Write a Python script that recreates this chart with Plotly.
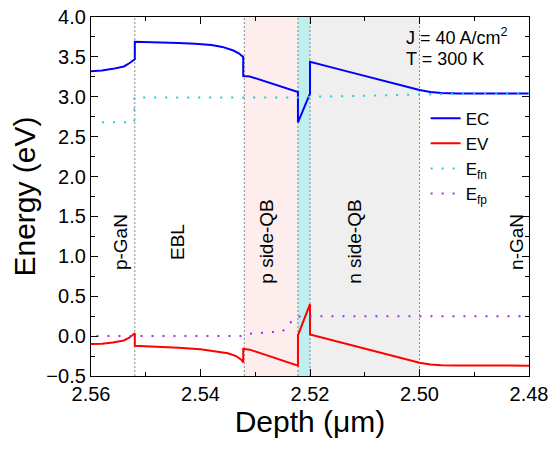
import plotly.graph_objects as go

# ---- data ----
depth_ec = [2.560, 2.558, 2.556, 2.554, 2.553, 2.552, 2.552, 2.548, 2.544, 2.541, 2.538, 2.536,
            2.534, 2.533, 2.5322, 2.5322, 2.531, 2.5222, 2.5222, 2.520, 2.520, 2.515, 2.510,
            2.505, 2.502, 2.500, 2.498, 2.496, 2.493, 2.490, 2.485, 2.480]
ec = [3.32, 3.33, 3.35, 3.38, 3.42, 3.47, 3.69, 3.685, 3.675, 3.665, 3.65, 3.625,
      3.58, 3.545, 3.50, 3.26, 3.255, 3.06, 2.68, 3.04, 3.44, 3.35, 3.26,
      3.17, 3.115, 3.085, 3.06, 3.048, 3.042, 3.04, 3.04, 3.04]

depth_ev = [2.560, 2.558, 2.556, 2.554, 2.553, 2.552, 2.552, 2.548, 2.544, 2.540, 2.537, 2.535,
            2.5335, 2.5325, 2.5322, 2.5322, 2.531, 2.5222, 2.5222, 2.520, 2.520, 2.515, 2.510,
            2.505, 2.502, 2.500, 2.498, 2.496, 2.493, 2.490, 2.485, 2.480]
ev = [-0.10, -0.095, -0.08, -0.055, -0.02, 0.035, -0.12, -0.13, -0.145, -0.165, -0.19, -0.215,
      -0.25, -0.30, -0.33, -0.16, -0.17, -0.37, 0.01, 0.40, 0.02, -0.07, -0.16,
      -0.25, -0.30, -0.335, -0.355, -0.365, -0.368, -0.37, -0.37, -0.37]

depth_efn = [2.558, 2.5521, 2.5521, 2.540, 2.530, 2.522, 2.520, 2.515, 2.510, 2.505, 2.500,
             2.495, 2.490, 2.480]
efn = [2.68, 2.68, 2.99, 2.99, 2.99, 2.99, 3.0, 3.005, 3.01, 3.02, 3.03, 3.035, 3.038, 3.04]

depth_efp = [2.559, 2.540, 2.532, 2.531, 2.527, 2.525, 2.5237, 2.5225, 2.520, 2.500, 2.480]
efp = [0.0, 0.0, 0.0, 0.03, 0.045, 0.06, 0.16, 0.245, 0.25, 0.25, 0.25]

boundaries = [2.552, 2.532, 2.5222, 2.520, 2.500]
shaded_regions = [(2.532, 2.5222), (2.5222, 2.520), (2.520, 2.500)]
shade_colors = ["rgba(253,237,237,1)", "rgba(190,238,238,1)", "rgba(239,239,239,1)"]

region_labels = ["p-GaN", "EBL", "p side-QB", "n side-QB", "n-GaN"]
region_label_x = [2.5545, 2.5441, 2.5279, 2.5118, 2.4822]
region_label_y = 1.18

x_ticks = [2.56, 2.54, 2.52, 2.50, 2.48]

FONT = "Liberation Sans, Arial, sans-serif"

fig = go.Figure()
fig.add_trace(go.Scatter(x=depth_ec, y=ec, mode="lines", name="EC",
                         line=dict(color="#0000FF", width=2)))
fig.add_trace(go.Scatter(x=depth_ev, y=ev, mode="lines", name="EV",
                         line=dict(color="#FF0000", width=2)))
fig.add_trace(go.Scatter(x=depth_efn, y=efn, mode="lines", name="E<sub>fn</sub>",
                         line=dict(color="#22CCDD", width=2, dash="2px,9px")))
fig.add_trace(go.Scatter(x=depth_efp, y=efp, mode="lines", name="E<sub>fp</sub>",
                         line=dict(color="#A030E0", width=2, dash="2px,9px")))

shapes = []
for (x0, x1), c in zip(shaded_regions, shade_colors):
    shapes.append(dict(type="rect", xref="x", yref="paper", x0=x0, x1=x1, y0=0, y1=1,
                       fillcolor=c, line=dict(width=0), layer="below"))
for b in boundaries:
    shapes.append(dict(type="line", xref="x", yref="paper", x0=b, x1=b, y0=0, y1=1,
                       line=dict(color="#888888", width=1, dash="2px,2px"), layer="below"))

annotations = []
for t, xv in zip(region_labels, region_label_x):
    annotations.append(dict(x=xv, y=region_label_y, xref="x", yref="y", text=t,
                            textangle=-90, showarrow=False,
                            font=dict(family=FONT, size=19, color="black")))
annotations.append(dict(x=2.5029, y=3.755, xref="x", yref="y", xanchor="left",
                        text="J = 40 A/cm<sup>2</sup>", showarrow=False,
                        font=dict(family=FONT, size=18, color="black")))
annotations.append(dict(x=2.5029, y=3.47, xref="x", yref="y", xanchor="left",
                        text="T = 300 K", showarrow=False,
                        font=dict(family=FONT, size=18, color="black")))

axis_common = dict(showline=True, linecolor="black", linewidth=1.3, mirror="allticks",
                   ticks="inside", ticklen=7, tickwidth=1.2, tickcolor="black",
                   showgrid=False, zeroline=False, automargin=False,
                   tickfont=dict(family=FONT, size=20, color="black"))

fig.update_layout(
    width=551, height=451,
    margin=dict(l=91, r=22, t=17, b=75),
    paper_bgcolor="white", plot_bgcolor="white",
    shapes=shapes, annotations=annotations,
    showlegend=True,
    legend=dict(x=0.764, y=0.767, xanchor="left", yanchor="top",
                bgcolor="rgba(0,0,0,0)", font=dict(family=FONT, size=17, color="black"),
                tracegroupgap=0),
    xaxis=dict(range=[2.56, 2.48], tickvals=x_ticks, tickformat=".2f",
               minor=dict(dtick=0.01, ticks="inside", ticklen=4, tickcolor="black"),
               title=dict(text="Depth (\u03bcm)", font=dict(family=FONT, size=30, color="black"),
                          standoff=0),
               **axis_common),
    yaxis=dict(range=[-0.5, 4.0], dtick=0.5, tick0=0, tickformat=".1f",
               minor=dict(dtick=0.25, ticks="inside", ticklen=4, tickcolor="black"),
               title=dict(text="Energy (eV)", font=dict(family=FONT, size=30, color="black"),
                          standoff=1),
               **axis_common),
)

fig.write_html("out.html", config={"displayModeBar": False},
               post_script="document.body.style.margin='0';document.body.style.padding='0';")
